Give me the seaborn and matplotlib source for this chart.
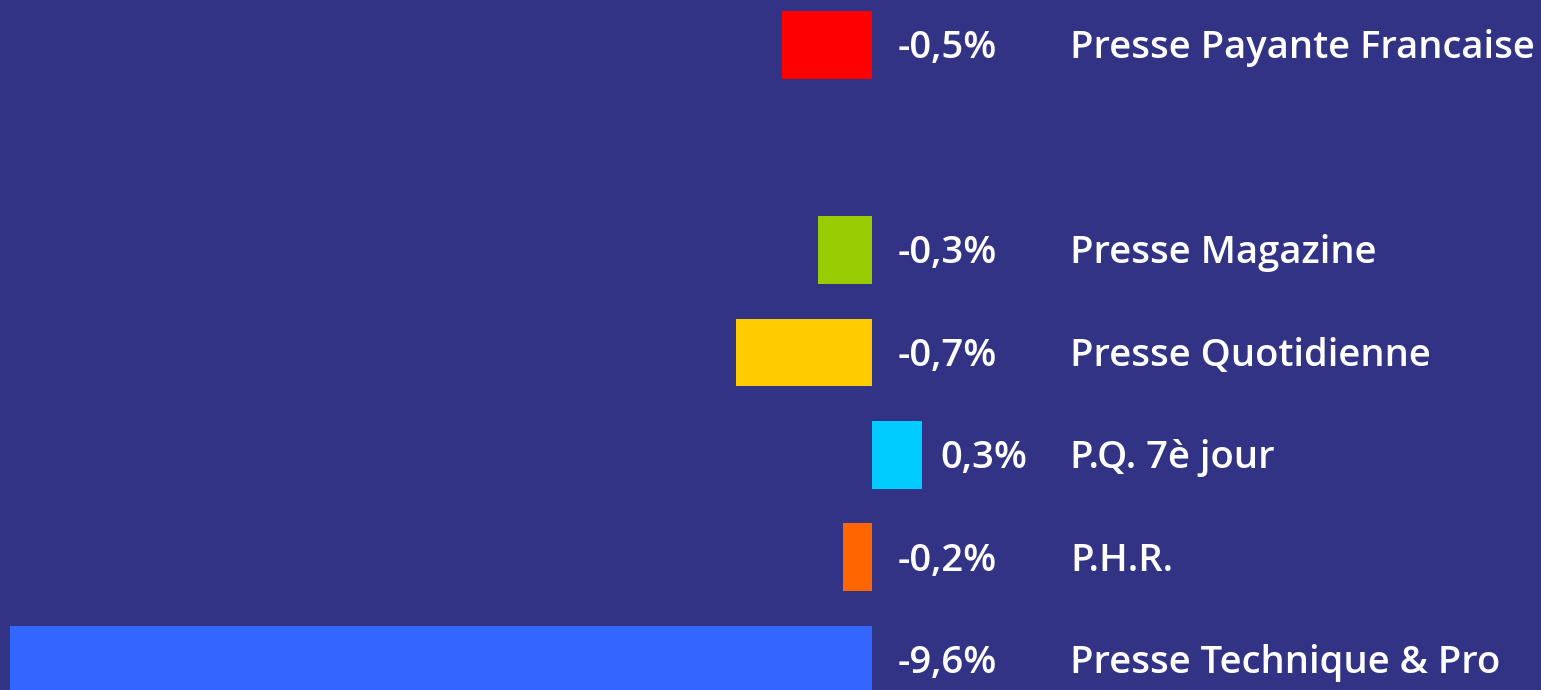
import matplotlib
matplotlib.use("Agg")
import matplotlib.pyplot as plt
import seaborn as sns
import pandas as pd

categories = ["Presse Payante Francaise", " ", "Presse Magazine", "Presse Quotidienne",
              "P.Q. 7è jour", "P.H.R.", "Presse Technique & Pro"]
values = [-0.5, None, -0.3, -0.755, 0.278, -0.161, -9.6]
value_labels = ["-0,5%", "", "-0,3%", "-0,7%", "0,3%", "-0,2%", "-9,6%"]
colors = ["#FF0000", "#333385", "#99CC00", "#FFCC00", "#00CCFF", "#FF6600", "#3366FF"]

BG = "#333385"
sns.set_theme(style="white")
plt.rcParams['font.family'] = ['Open Sans', 'DejaVu Sans']

df = pd.DataFrame({"cat": categories, "val": values}).dropna()
palette = dict(zip(categories, colors))

fig = plt.figure(figsize=(15.41, 6.90), dpi=100)
fig.patch.set_facecolor(BG)
ax = fig.add_axes([10 / 1541, 0, 1 - 10 / 1541, 1])
ax.set_facecolor(BG)

sns.barplot(data=df, y="cat", x="val", hue="cat", order=categories, palette=palette,
            orient="h", width=0.663, legend=False, ax=ax, saturation=1, linewidth=0)

ax.set_xlim(-(872 - 10) / 180, (1541 - 872) / 180)
ax.set_ylim(6.293, -0.439)
ax.set_axis_off()

for i, (v, lab, name) in enumerate(zip(values, value_labels, categories)):
    if v is None:
        continue
    x0 = max(0, v) + (0.10 if v > 0 else 0.14)
    ax.text(x0, i + 0.03, lab, color="white", fontsize=27.5, fontweight="semibold",
            va="center", ha="left")
    ax.text((1070 - 872) / 180, i + 0.03, name, color="white", fontsize=27.5,
            fontweight="semibold", va="center", ha="left")

fig.savefig("out.png", dpi=100, facecolor=BG)
